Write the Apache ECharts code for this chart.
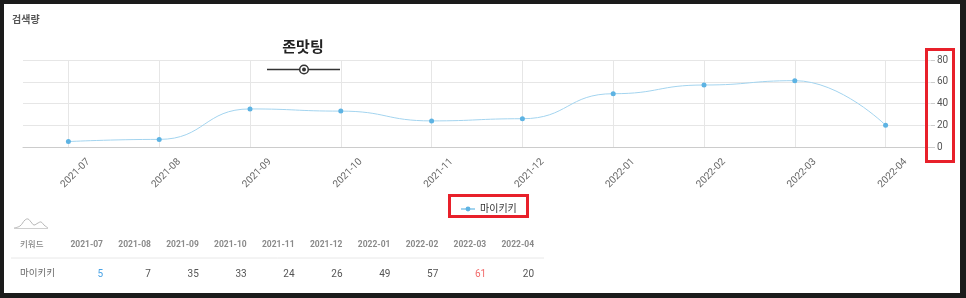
<!DOCTYPE html>
<html><head><meta charset="utf-8">
<script src="https://cdn.jsdelivr.net/npm/echarts@6/dist/echarts.min.js"></script>
<style>
html,body{margin:0;padding:0;background:#1b1b1b;width:966px;height:298px;overflow:hidden}
#paper{position:absolute;left:4px;top:4px;width:956px;height:289px;background:#fff}
#chart{position:absolute;left:0;top:0;width:966px;height:298px}
</style></head><body>
<div id="paper"></div><div id="chart"></div>
<script>
const titleText = '검색량';
const seriesName = '마이키키';
const otherSeriesName = '존맛팅';
const tableHeader = '키워드';
const categories = ['2021-07','2021-08','2021-09','2021-10','2021-11','2021-12','2022-01','2022-02','2022-03','2022-04'];
const values = [5, 7, 35, 33, 24, 26, 49, 57, 61, 20];
const yTicks = [0, 20, 40, 60, 80];

const FONT = "Roboto, 'Noto Sans CJK KR', sans-serif";
const chart = echarts.init(document.getElementById('chart'), null, {renderer: 'canvas'});

const minV = Math.min(...values), maxV = Math.max(...values);
const tableGraphics = [];
tableGraphics.push({type:'text', x: 20, y: 245, z: 50,
  style:{text: tableHeader, font: "500 8.5px " + FONT, fill:'#888', verticalAlign:'middle'}});
tableGraphics.push({type:'text', x: 20, y: 274, z: 50,
  style:{text: seriesName, font: "9.5px " + FONT, fill:'#666', verticalAlign:'middle'}});
categories.forEach((c, i) => {
  const xr = 103 + i * 47.9;
  tableGraphics.push({type:'text', x: xr, y: 245, z: 50,
    style:{text: c, font: "bold 8.5px " + FONT, fill:'#8a8a8a', align:'right', verticalAlign:'middle'}});
  const v = values[i];
  tableGraphics.push({type:'text', x: xr, y: 274, z: 50,
    style:{text: String(v), font: "10px " + FONT,
      fill: v === minV ? '#4aa3e6' : (v === maxV ? '#f26b6b' : '#555'),
      align:'right', verticalAlign:'middle'}});
});
tableGraphics.push({type:'line', z: 50, shape:{x1: 11, y1: 258, x2: 544, y2: 258},
  style:{stroke:'#e8e8e8', lineWidth:1}});

const option = {
  animation: false,
  title: {text: titleText, left: 7, top: 11,
    textStyle:{fontSize: 10, fontWeight: 'bold', color:'#555', fontFamily: FONT}},
  legend: {data:[seriesName], left: 455, top: 199, itemWidth: 14, itemHeight: 6,
    textStyle:{fontSize: 10, color:'#333', fontFamily: FONT}},
  grid: {left: 23, right: 35, top: 60, bottom: 151, containLabel: false, outerBoundsMode: 'none'},
  xAxis: {
    type: 'category', data: categories, boundaryGap: true,
    axisLine: {lineStyle: {color:'#cccccc'}},
    axisTick: {show: false},
    splitLine: {show: true, alignWithLabel: true, lineStyle: {color: '#e6e6e6'}},
    axisLabel: {interval: 0, rotate: 45, align: 'center', verticalAlign: 'top',
      margin: 22, formatter: '{a|{value}}',
      rich: {a: {padding: [3, 0, 0, 4], fontSize: 10, color: '#666', fontFamily: FONT}},
      fontSize: 10, color: '#666', fontFamily: FONT}
  },
  yAxis: {
    type: 'value', position: 'right', min: yTicks[0], max: yTicks[yTicks.length-1], interval: 20,
    axisLine: {show: false},
    axisTick: {show: true, length: 4, lineStyle:{color:'#cccccc'}},
    splitLine: {lineStyle: {color: '#e6e6e6'}},
    axisLabel: {margin: 6, fontSize: 10, color: '#555', fontFamily: FONT}
  },
  series: [{
    name: seriesName, type: 'line', data: values,
    smooth: 0.5, smoothMonotone: 'x',
    symbol: 'circle', symbolSize: 5,
    itemStyle: {color: '#5db3e3'},
    lineStyle: {color: '#a3d4ef', width: 1}
  }],
  graphic: [
    {type:'text', x: 303, y: 48, z: 50,
      style:{text: otherSeriesName, font: "bold 15px " + FONT, fill:'#222', align:'center', verticalAlign:'middle'}},
    {type:'line', z: 50, shape:{x1: 267, y1: 69.5, x2: 340, y2: 69.5}, style:{stroke:'#333', lineWidth: 1.5}},
    {type:'circle', z: 51, shape:{cx: 304, cy: 69.5, r: 4.3}, style:{fill:'#fff', stroke:'#333', lineWidth: 1.5}},
    {type:'circle', z: 52, shape:{cx: 304, cy: 69.5, r: 2}, style:{fill:'#333'}},
    {type:'polyline', z: 50, shape:{points:[[14,228],[20,226],[25,220],[28,219],[31,222],[34,225],[38,223],[41,222],[44,225],[48,228]], smooth: 0.4},
      style:{stroke:'#b5b5b5', lineWidth: 1, fill: null}},
    {type:'polyline', z: 50, shape:{points:[[14,228.5],[48,228.5]]}, style:{stroke:'#cfcfcf', lineWidth: 1}},
    {type:'rect', z: 100, shape:{x: 926.5, y: 49.5, width: 27, height: 112},
      style:{fill: null, stroke:'#e8202a', lineWidth: 3}},
    {type:'rect', z: 100, shape:{x: 449.5, y: 195.5, width: 78, height: 21},
      style:{fill: null, stroke:'#e8202a', lineWidth: 3}},
    ...tableGraphics
  ]
};
chart.setOption(option);
</script>
</body></html>
